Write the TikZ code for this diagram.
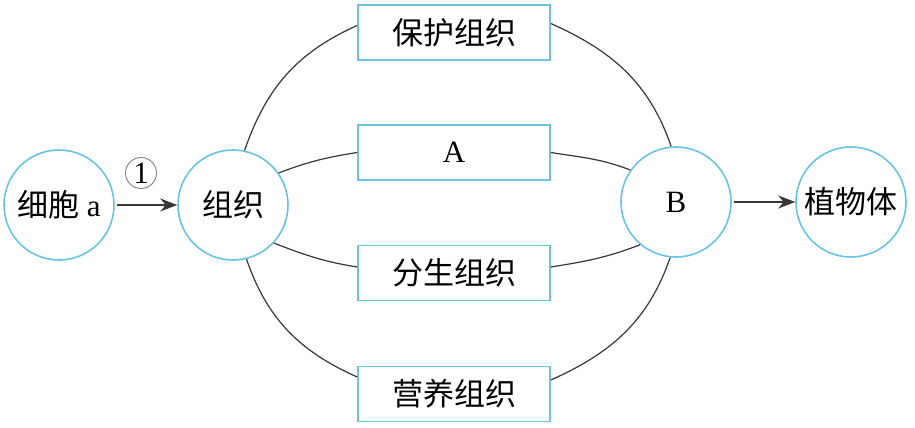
\documentclass[tikz,border=0pt]{standalone}
\usepackage{fontspec}
\setmainfont{Liberation Serif}
\newfontfamily\cjk{Noto Sans CJK SC}
\usetikzlibrary{arrows.meta}
\definecolor{rimblue}{RGB}{105,196,226}
\definecolor{linegray}{RGB}{55,55,55}
\begin{document}
\begin{tikzpicture}[x=1pt,y=-1pt,
  cell/.style={circle,draw=rimblue,line width=1.6pt,fill=white,minimum size=110pt,inner sep=0pt,font=\fontsize{31}{36}\selectfont},
  tissue/.style={rectangle,draw=rimblue,line width=1.6pt,fill=white,minimum width=192pt,minimum height=55pt,inner sep=0pt,font=\fontsize{31}{36}\selectfont},
  link/.style={draw=linegray,line width=1.2pt},
  flow/.style={link,shorten <=2pt,-{Stealth[length=17pt,width=13pt]}},
  stepmark/.style={circle,draw=gray,line width=0.9pt,inner sep=0pt,minimum size=31pt,font=\fontsize{31}{31}\selectfont}]
\useasboundingbox (0,0) rectangle (915,428);

\node[cell] (xb) at (59,205) {{\cjk 细胞} a};
\node[cell] (zz) at (233,205) {\cjk 组织};
\node[cell] (bb) at (676,202) {B};
\node[cell] (zw) at (851,202) {\cjk 植物体};

\node[tissue] (bh) at (454,32.5) {\cjk 保护组织};
\node[tissue] (ba) at (454,152.5) {A};
\node[tissue] (bf) at (454,273) {\cjk 分生组织};
\node[tissue] (by) at (454,394) {\cjk 营养组织};

\node[stepmark] (n1) at (141,173) {1};

\draw[flow] (xb) -- (zz);
\draw[flow] (bb) -- (zw);

\draw[link] (zz.78) to[out=71,in=204] ([yshift=7pt]bh.west);
\draw[link] ([yshift=9pt]bh.east) to[out=-24,in=109] (bb.95);
\draw[link] (zz.35) to[out=21,in=189] (ba.west);
\draw[link] (ba.east) to[out=-9,in=159] (bb.145);
\draw[link] (zz.-43) to[out=-21,in=171] ([yshift=6pt]bf.west);
\draw[link] ([yshift=6pt]bf.east) to[out=9,in=201] (bb.230);
\draw[link] (zz.-76) to[out=-71,in=156] ([yshift=17pt]by.west);
\draw[link] ([yshift=14pt]by.east) to[out=24,in=251] (bb.264);
\end{tikzpicture}
\end{document}
